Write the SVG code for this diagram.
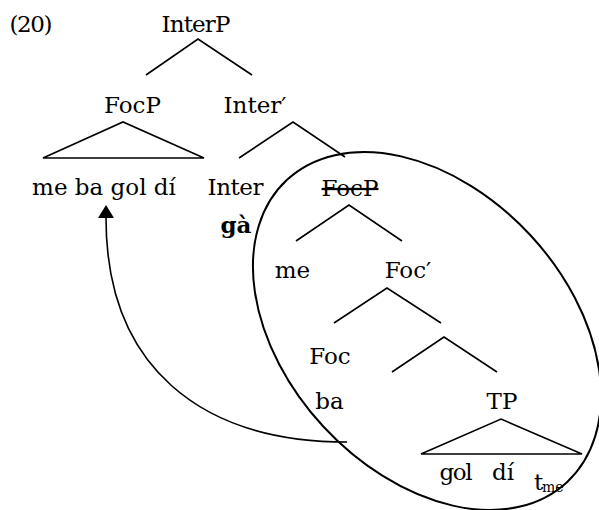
<svg xmlns="http://www.w3.org/2000/svg" width="599" height="510" viewBox="0 0 599 510">
<style>
text{font-family:"DejaVu Serif","Liberation Serif",serif;font-size:23px;fill:#000;text-anchor:middle}
.b{font-weight:bold}
.st{text-anchor:start}
.sub{font-size:14px;text-anchor:start}
.ln{stroke:#000;stroke-width:1.6;fill:none}
.ell{stroke:#000;stroke-width:2;fill:none}
</style>
<defs>
<marker id="ah" viewBox="0 0 13 16" refX="0" refY="8" markerWidth="13" markerHeight="16" markerUnits="userSpaceOnUse" orient="auto">
<path d="M0,0 L13,8 L0,16 Z" fill="#000"/>
</marker>
</defs>
<rect width="599" height="510" fill="#fff"/>
<g id="label-20"><text x="31" y="32" textLength="43">(20)</text></g>
<g id="InterP"><text x="196" y="32" textLength="69">InterP</text></g>
<g id="FocP-top"><text x="132.5" y="113">FocP</text></g>
<g id="InterBar"><text x="255" y="113">Inter′</text></g>
<g id="FocP-moved"><text x="104" y="195">me ba gol dí</text></g>
<g id="Inter"><text x="235.5" y="195" textLength="56">Inter</text><text class="b" x="236" y="233">gà</text></g>
<g id="FocP-struck"><text x="350" y="196" text-decoration="line-through">FocP</text></g>
<g id="me"><text x="292.5" y="278">me</text></g>
<g id="FocBar"><text x="408" y="278">Foc′</text></g>
<g id="Foc"><text x="330" y="364">Foc</text><text x="329.5" y="409">ba</text></g>
<g id="TP"><text x="502" y="409">TP</text></g>
<g id="TP-content"><text x="456" y="480" textLength="33">gol</text><text x="503" y="480">dí</text><text class="st" x="534" y="490">t</text><text class="sub" x="542" y="492">me</text></g>
<g id="ellipse"><ellipse class="ell" cx="427" cy="331" rx="206" ry="141" transform="rotate(47.2 427 331)"/></g>
<g id="connectors">
<path class="ln" d="M146,75 L198,39 L252,75"/>
<path class="ln" d="M43,158 L123,122 L204,158 Z"/>
<path class="ln" d="M239,158 L293,122 L345,157"/>
<path class="ln" d="M296,241 L349,205 L402,241"/>
<path class="ln" d="M334,323 L387,288 L441,323"/>
<path class="ln" d="M392,372 L444,337 L497,372"/>
<path class="ln" d="M421,454 L501,419 L582,454 Z"/>
<path class="ln" d="M347,442 C200,442 106,366 106,218" marker-end="url(#ah)"/>
</g>
</svg>
